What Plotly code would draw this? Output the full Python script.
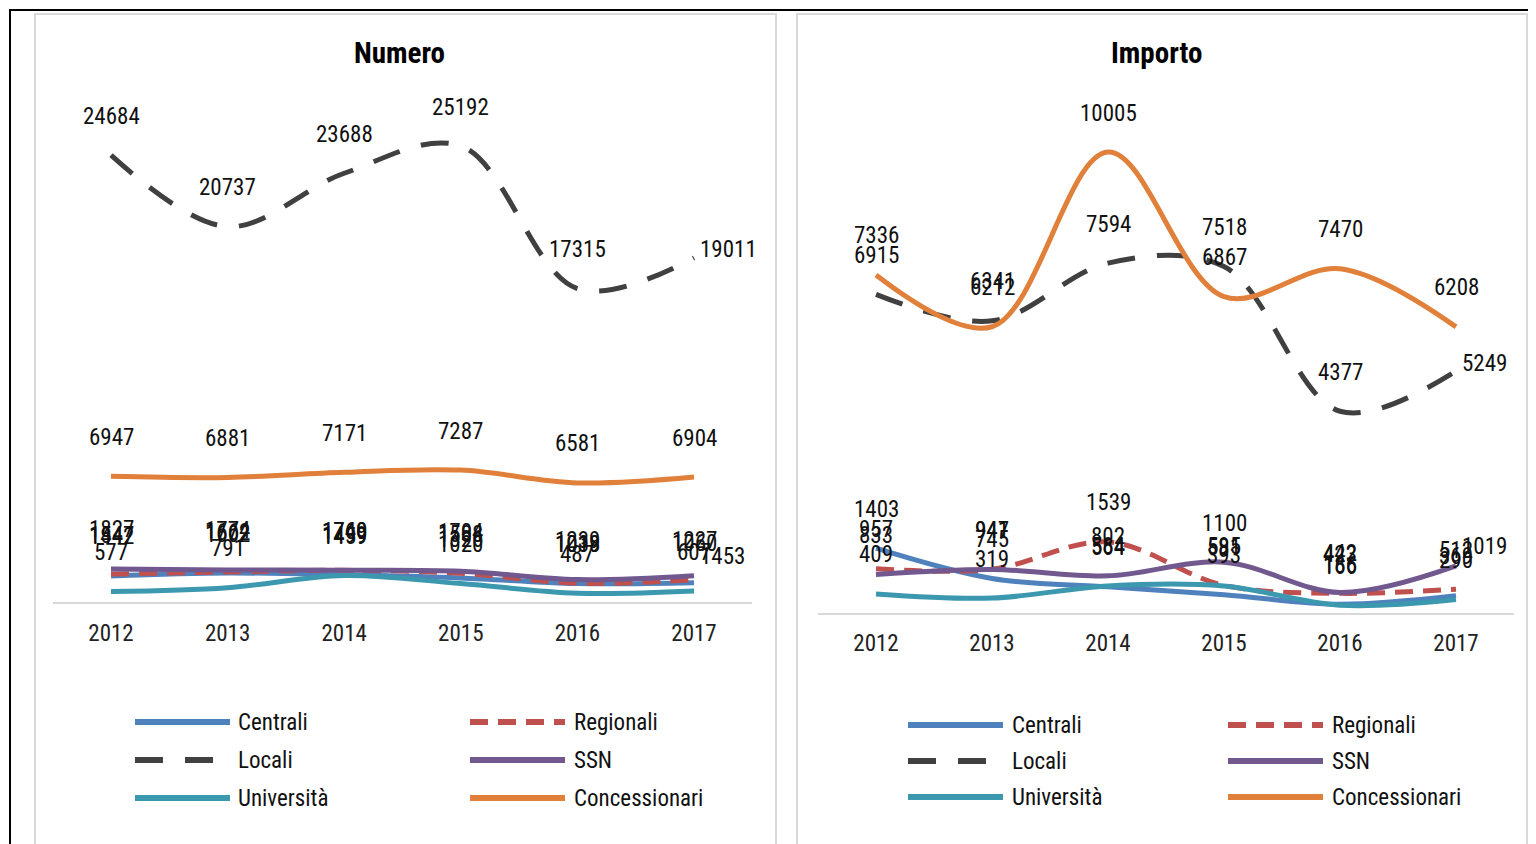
import plotly.graph_objects as go

years = [2012, 2013, 2014, 2015, 2016, 2017]
year_labels = ["2012", "2013", "2014", "2015", "2016", "2017"]
series_names = ["Centrali", "Regionali", "Locali", "SSN", "Università", "Concessionari"]

# Numero
num_centrali = [1442, 1602, 1499, 1326, 1019, 1060]
num_regionali = [1547, 1662, 1749, 1588, 1038, 1227]
num_locali = [24684, 20737, 23688, 25192, 17315, 19011]
num_ssn = [1827, 1774, 1760, 1704, 1239, 1453]
num_universita = [577, 791, 1459, 1020, 487, 607]
num_concessionari = [6947, 6881, 7171, 7287, 6581, 6904]

# Importo
imp_centrali = [1403, 745, 564, 393, 186, 369]
imp_regionali = [957, 947, 1539, 595, 423, 512]
imp_locali = [6915, 6341, 7594, 7518, 4377, 5249]
imp_ssn = [833, 941, 802, 1100, 442, 1019]
imp_universita = [409, 319, 584, 581, 166, 290]
imp_concessionari = [7336, 6212, 10005, 6867, 7470, 6208]

numero = [num_centrali, num_regionali, num_locali, num_ssn, num_universita, num_concessionari]
importo = [imp_centrali, imp_regionali, imp_locali, imp_ssn, imp_universita, imp_concessionari]

colors = ["#4F81BD", "#C0504D", "#404040", "#71588F", "#3C98AE", "#E0803A"]
dashes = ["solid", "18px,10px", "28px,22px", "solid", "solid", "solid"]

FONT = "Liberation Sans Narrow, Arial Narrow, Roboto Condensed, sans-serif"
W, H = 1536, 844
OX, OY = 8, 8  # page body offset compensation


def px(x):
    return (x - OX) / W


def py(y):
    return 1 - (y - OY) / H


fig = go.Figure()

panels = [
    (numero, "x", "y"),
    (importo, "x2", "y2"),
]
for data, xa, ya in panels:
    for name, vals, col, dsh in zip(series_names, data, colors, dashes):
        fig.add_trace(go.Scatter(
            x=years, y=vals, name=name, mode="lines",
            line=dict(color=col, width=5, dash=dsh, shape="spline", smoothing=1),
            xaxis=xa, yaxis=ya, hoverinfo="skip", showlegend=False,
        ))

# data labels
right_labels = {("x", "Locali"): 8, ("x", "SSN"): 19, ("x2", "Locali"): 8, ("x2", "SSN"): 19}
annotations = []
for data, xa, ya in panels:
    for name, vals in zip(series_names, data):
        for i, (yr, v) in enumerate(zip(years, vals)):
            if i == len(years) - 1 and (xa, name) in right_labels:
                annotations.append(dict(x=yr, y=v, xref=xa, yref=ya, text=str(v), showarrow=False,
                                        xanchor="left", yanchor="middle", xshift=4,
                                        yshift=right_labels[(xa, name)],
                                        font=dict(family=FONT, size=23, color="#111")))
            else:
                annotations.append(dict(x=yr, y=v, xref=xa, yref=ya, text=str(v), showarrow=False,
                                        xanchor="center", yanchor="middle", yshift=39,
                                        font=dict(family=FONT, size=23, color="#111")))

annotations.append(dict(x=px(399), y=py(53), xref="paper", yref="paper", text="<b>Numero</b>",
                        showarrow=False, xanchor="center", yanchor="middle",
                        font=dict(family=FONT, size=29, color="#000")))
annotations.append(dict(x=px(1156), y=py(53), xref="paper", yref="paper", text="<b>Importo</b>",
                        showarrow=False, xanchor="center", yanchor="middle",
                        font=dict(family=FONT, size=29, color="#000")))

shapes = [
    dict(type="rect", xref="paper", yref="paper", x0=px(35), x1=px(776), y0=-0.02, y1=py(14),
         line=dict(color="#D9D9D9", width=2)),
    dict(type="rect", xref="paper", yref="paper", x0=px(797), x1=px(1527), y0=-0.02, y1=py(14),
         line=dict(color="#D9D9D9", width=2)),
    dict(type="line", xref="paper", yref="paper", x0=px(9), x1=1.0, y0=py(10), y1=py(10),
         line=dict(color="#000", width=2)),
    dict(type="line", xref="paper", yref="paper", x0=px(10), x1=px(10), y0=0, y1=py(10),
         line=dict(color="#000", width=2)),
]

# legends (two columns x three rows per panel)
legend_layouts = [
    dict(cols=[(135, 230, 236), (470, 565, 572)], rows=[722, 760, 798]),
    dict(cols=[(908, 1003, 1010), (1228, 1323, 1330)], rows=[725, 761, 797]),
]
for lay in legend_layouts:
    for k, (name, col, dsh) in enumerate(zip(series_names, colors, dashes)):
        r, c = divmod(k, 2)
        x0, x1, xt = lay["cols"][c]
        yy = py(lay["rows"][r])
        shapes.append(dict(type="line", xref="paper", yref="paper", x0=px(x0), x1=px(x1), y0=yy, y1=yy,
                           line=dict(color=col, width=6, dash=dsh)))
        annotations.append(dict(x=px(xt), y=yy, xref="paper", yref="paper", text=name, showarrow=False,
                                xanchor="left", yanchor="middle",
                                font=dict(family=FONT, size=23, color="#111")))

axis_common = dict(showgrid=False, zeroline=False, showline=True, linecolor="#D9D9D9", linewidth=2,
                   ticks="outside", ticklen=9, tickcolor="rgba(0,0,0,0)",
                   tickvals=years, ticktext=year_labels, range=[2011.5, 2017.5],
                   tickfont=dict(family=FONT, size=23, color="#222"), fixedrange=True)

fig.update_layout(
    width=W, height=H,
    margin=dict(l=0, r=0, t=0, b=0, autoexpand=False),
    paper_bgcolor="white", plot_bgcolor="white",
    showlegend=False,
    xaxis=dict(domain=[px(52.7), px(752.3)], anchor="y", **axis_common),
    yaxis=dict(domain=[py(602), py(59)], range=[0, 30000], visible=False, fixedrange=True),
    xaxis2=dict(domain=[px(818), px(1514)], anchor="y2", **axis_common),
    yaxis2=dict(domain=[py(612.8), py(60.2)], range=[0, 12000], visible=False, fixedrange=True),
    annotations=annotations,
    shapes=shapes,
)

fig.write_html("out.html")
